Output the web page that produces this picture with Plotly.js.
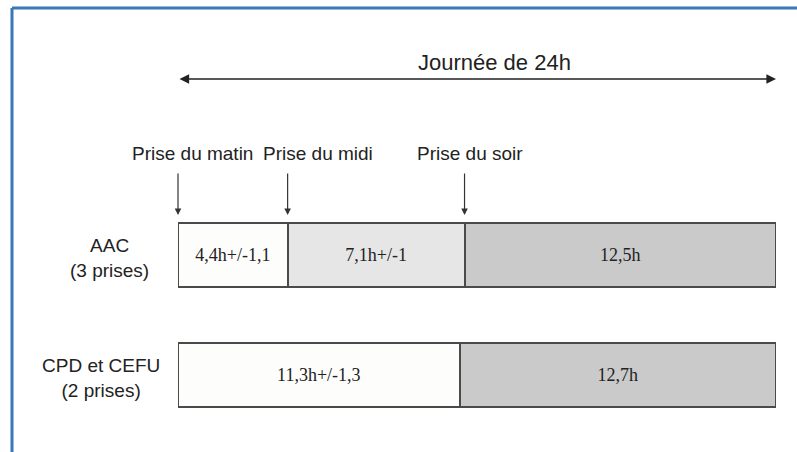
<!DOCTYPE html>
<html>
<head>
<meta charset="utf-8">
<script src="https://cdn.plot.ly/plotly-3.0.1.min.js"></script>
<style>html,body{margin:0;padding:0;background:#fff;}#chart{width:797px;height:452px;}</style>
</head>
<body>
<div id="chart"></div>
<script>
// ---- data ----
var categories = ['AAC', 'CPD et CEFU'];
var subLabels = ['(3 prises)', '(2 prises)'];
var seg1 = [4.4, 11.3];
var seg2 = [7.1, null];
var seg3 = [12.5, 12.7];
var seg1Text = ['4,4h+/-1,1', '11,3h+/-1,3'];
var seg2Text = ['7,1h+/-1', ''];
var seg3Text = ['12,5h', '12,7h'];
var dayLength = 24;
var dayTitle = 'Journée de 24h';
var intakeLabels = ['Prise du matin', 'Prise du midi', 'Prise du soir'];
var intakeTimes = [0, seg1[0], seg1[0] + seg2[0]];

// ---- styles ----
var barLine = {color: '#4a4a4a', width: 2};
var barFont = {family: 'Liberation Serif, Times New Roman, serif', size: 18, color: '#222'};
var labelFont = {family: 'Liberation Sans, Arial, sans-serif', size: 19, color: '#222'};

function barTrace(vals, txt, color) {
  return {
    type: 'bar', orientation: 'h', y: categories, x: vals,
    text: txt, textposition: 'inside', insidetextanchor: 'middle',
    textangle: 0, constraintext: 'none', textfont: barFont,
    marker: {color: color, line: barLine}, width: 0.53,
    hoverinfo: 'none', showlegend: false
  };
}

var data = [
  barTrace(seg1, seg1Text, '#fdfdfb'),
  barTrace(seg2, seg2Text, '#e6e6e6'),
  barTrace(seg3, seg3Text, '#cacaca')
];

var annotations = [];
// category labels (centered, two lines)
var labelCenters = [-0.115, -0.128];
categories.forEach(function (c, i) {
  annotations.push({
    xref: 'paper', yref: 'y', x: labelCenters[i], y: c, xanchor: 'center', yanchor: 'middle',
    text: c + '<br>' + subLabels[i], showarrow: false, align: 'center', font: labelFont, yshift: -3
  });
});
// day title
annotations.push({
  xref: 'x', yref: 'paper', x: 12.7, y: 1.554, xanchor: 'center', yanchor: 'middle',
  text: dayTitle, showarrow: false, font: {family: 'Liberation Sans, Arial, sans-serif', size: 22, color: '#222'}
});
// double arrow spanning the day
annotations.push({
  xref: 'x', yref: 'paper', x: dayLength, y: 1.4833, axref: 'x', ayref: 'pixel', ax: 0, ay: 0,
  text: '', showarrow: true, arrowhead: 2, startarrowhead: 2, arrowside: 'end+start',
  arrowsize: 1.2, startarrowsize: 1.2, arrowwidth: 1.6, arrowcolor: '#222'
});
// intake labels and down arrows
var labelX = [0.6, 5.6, 11.7];
intakeLabels.forEach(function (lab, i) {
  annotations.push({
    xref: 'x', yref: 'paper', x: labelX[i], y: 1.171, xanchor: 'center', yanchor: 'middle',
    text: lab, showarrow: false, font: labelFont
  });
  annotations.push({
    xref: 'x', yref: 'paper', x: intakeTimes[i], y: 0.9167, axref: 'pixel', ayref: 'pixel', ax: 0, ay: -43,
    text: '', showarrow: true, arrowhead: 2, arrowsize: 1.1, arrowwidth: 1.2, arrowcolor: '#333'
  });
});

var shapes = [
  {type: 'line', xref: 'paper', yref: 'paper', x0: -0.2776, x1: -0.2776, y0: 1.779, y1: -0.2, line: {color: '#3a77b8', width: 3}},
  {type: 'line', xref: 'paper', yref: 'paper', x0: -0.2776, x1: 1.2, y0: 1.779, y1: 1.779, line: {color: '#3a77b8', width: 3}}
];

var layout = {
  width: 797, height: 452,
  margin: {l: 178, r: 21, t: 195, b: 17},
  paper_bgcolor: '#ffffff', plot_bgcolor: '#ffffff',
  barmode: 'stack', bargap: 0,
  xaxis: {range: [0, dayLength], visible: false, fixedrange: true},
  yaxis: {type: 'category', categoryarray: categories, autorange: false, range: [1.5, -0.5],
          visible: false, fixedrange: true},
  annotations: annotations, shapes: shapes,
  showlegend: false
};

Plotly.newPlot('chart', data, layout, {displayModeBar: false, staticPlot: true});
</script>
</body>
</html>
